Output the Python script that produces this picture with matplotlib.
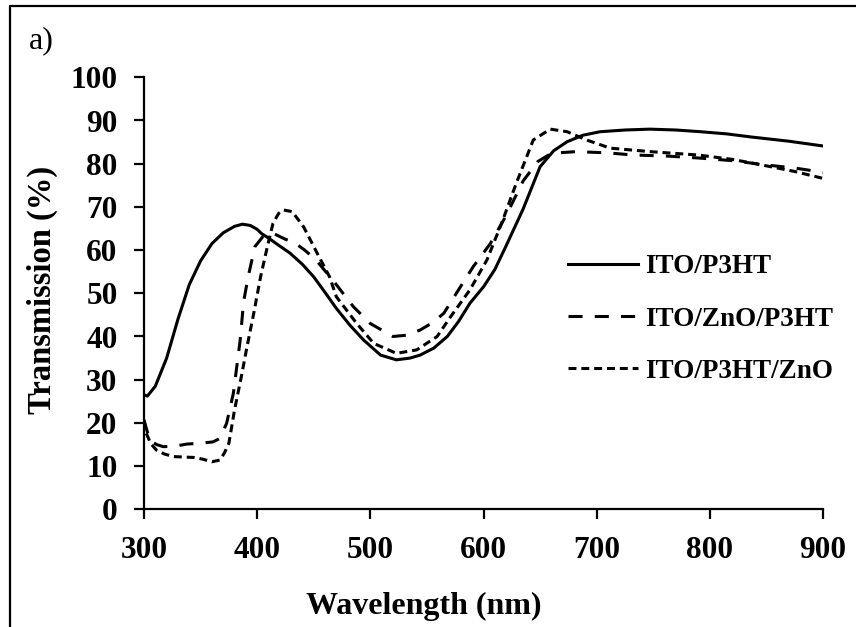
import numpy as np
import matplotlib
matplotlib.use('Agg')
import matplotlib.pyplot as plt
from matplotlib.lines import Line2D

plt.rcParams['font.family'] = ['Liberation Serif', 'DejaVu Serif']

# ─────────────────────────────────────────────────────────────────────────────
# data (wavelength in nm, transmission in %)
# ─────────────────────────────────────────────────────────────────────────────

WL_P3HT = [300, 303, 310, 320, 330, 340, 350, 360, 370, 380, 387, 394,
           400, 404, 410, 418, 429, 440, 450, 460, 470, 482, 494,
           509, 523, 535, 544, 556, 568, 578, 588, 600, 610, 620, 635, 650,
           662, 674, 688, 703, 725, 747, 770, 792, 815, 836, 870, 900]
T_P3HT = [26.5, 26.2, 28.5, 35.0, 44.0, 52.0, 57.5, 61.5, 64.0, 65.5,
          66.0, 65.7, 64.8, 63.8, 62.8, 61.3, 59.3, 56.7, 53.8,
          50.2, 46.5, 42.6, 39.2, 35.7, 34.6, 35.0, 35.7, 37.3, 40.0, 43.5,
          47.7, 51.5, 55.5, 61.0, 69.5, 79.3, 83.0, 85.1, 86.6, 87.4, 87.8,
          88.0, 87.8, 87.4, 86.9, 86.2, 85.2, 84.1]

WL_ZNO_P3HT = [300, 305, 311, 317, 327, 338, 350, 361, 367, 373, 379, 385,
               388, 392, 398, 405, 414, 425, 432, 442, 452, 467, 485, 500,
               520, 532, 544, 555, 565, 576, 591, 606, 620, 635, 648, 660,
               682, 710, 733, 760, 791, 820, 850, 875, 900]
T_ZNO_P3HT = [20.7, 16.0, 15.0, 14.5, 14.6, 15.1, 15.3, 15.6, 16.4, 19.9,
              26.9, 39.2, 48.0, 53.8, 60.8, 63.1, 63.9, 62.5, 61.9, 60.0,
              57.7, 53.0, 46.9, 43.0, 40.0, 40.3, 41.5, 43.2, 45.4, 50.0,
              56.2, 61.5, 68.0, 76.0, 80.5, 82.4, 82.8, 82.5, 82.0, 81.8,
              81.3, 80.7, 79.7, 79.0, 78.0]

WL_P3HT_ZNO = [300, 302, 306, 311, 318, 326, 335, 344, 352, 360, 367, 371,
               375, 380, 386, 391, 397, 403, 409, 414, 419, 423, 431, 441,
               453, 464, 470, 488, 503, 523, 541, 559, 571, 588, 603, 616,
               629, 644, 659, 674, 691, 712, 747, 790, 820, 850, 875, 900]
T_P3HT_ZNO = [20.5, 17.6, 15.2, 13.7, 12.8, 12.2, 12.1, 12.0, 11.6, 11.0,
              11.4, 13.0, 15.3, 23.0, 30.7, 37.6, 45.4, 53.8, 60.8, 66.2,
              68.5, 69.3, 68.9, 65.4, 59.3, 53.8, 49.2, 43.0, 38.4, 36.1,
              36.9, 40.0, 44.6, 50.8, 57.7, 66.2, 75.5, 85.5, 88.0, 87.4,
              85.5, 83.6, 82.8, 82.0, 81.0, 79.5, 78.2, 76.6]

LABELS = ['ITO/P3HT', 'ITO/ZnO/P3HT', 'ITO/P3HT/ZnO']
X_TICKS = [300, 400, 500, 600, 700, 800, 900]
Y_TICKS = [0, 10, 20, 30, 40, 50, 60, 70, 80, 90, 100]

# ─────────────────────────────────────────────────────────────────────────────
# figure
# ─────────────────────────────────────────────────────────────────────────────

W, H = 856, 627
fig = plt.figure(figsize=(W / 100, H / 100), dpi=100)
ax = fig.add_axes([144 / W, 1 - 509.3 / H, (823 - 144) / W, (509.3 - 77.3) / H])

lw = 2.2
ax.plot(WL_P3HT, T_P3HT, color='black', lw=lw, label=LABELS[0])
ax.plot(WL_ZNO_P3HT, T_ZNO_P3HT, color='black', lw=lw, dashes=(4.6, 4.0),
        label=LABELS[1])
ax.plot(WL_P3HT_ZNO, T_P3HT_ZNO, color='black', lw=lw, dashes=(2.6, 1.6),
        label=LABELS[2])

ax.set_xlim(300, 900)
ax.set_ylim(0, 100)
ax.set_xticks(X_TICKS)
ax.set_yticks(Y_TICKS)

for side in ('top', 'right'):
    ax.spines[side].set_visible(False)
for side in ('left', 'bottom'):
    ax.spines[side].set_linewidth(1.6)

ax.tick_params(direction='out', length=7, width=1.6, pad=12, labelsize=22.5)
for lab in ax.get_xticklabels() + ax.get_yticklabels():
    lab.set_fontweight('bold')

leg = ax.legend(loc='upper left', bbox_to_anchor=(0.624, 0.59), frameon=False,
                prop={'weight': 'bold', 'size': 19.5}, handlelength=2.6,
                handletextpad=0.25, labelspacing=1.0, borderpad=0,
                borderaxespad=0)

fig.text(42 / W, 1 - 290 / H, 'Transmission (%)', rotation=90, ha='center',
         va='center', fontsize=23.5, fontweight='bold')
fig.text(424 / W, 1 - 606 / H, 'Wavelength (nm)', ha='center', va='center',
         fontsize=23, fontweight='bold')
fig.text(29 / W, 1 - 41 / H, 'a)', ha='left', va='center', fontsize=23)

# outer frame (left and top only, as in the scan)
fx, fy = 10 / W, 1 - 5.5 / H
fig.add_artist(Line2D([fx, fx, 1.0], [0.0, fy, fy], transform=fig.transFigure,
                      color='black', lw=1.6))

fig.savefig('out.png', dpi=100)
